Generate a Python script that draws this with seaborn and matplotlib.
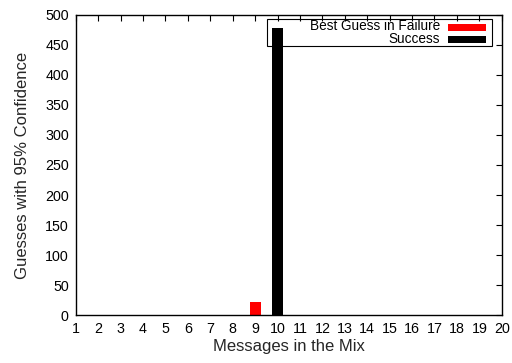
import matplotlib
matplotlib.use("Agg")
import matplotlib.pyplot as plt
import seaborn as sns
import pandas as pd
from matplotlib.patches import Rectangle

# Bar data: number of messages in the mix and guesses with 95% confidence
messages = [9, 10]
guesses = [22, 478]
outcome = ["Best Guess in Failure", "Success"]
series_order = ["Best Guess in Failure", "Success"]
series_colors = ["#ff0000", "#000000"]
x_ticks = list(range(1, 21))
y_ticks = list(range(0, 501, 50))

df = pd.DataFrame({"messages": messages, "guesses": guesses, "outcome": outcome})

sns.set_theme(style="white")
plt.rcParams["font.family"] = ["Liberation Sans", "DejaVu Sans"]

W, H = 512, 363
fig = plt.figure(figsize=(W / 100, H / 100), dpi=100)
ax = fig.add_axes([0.148, 0.132, 0.832, 0.827])

palette = dict(zip(series_order, series_colors))
sns.barplot(data=df, x="messages", y="guesses", hue="outcome",
            hue_order=series_order, palette=palette, native_scale=True,
            dodge=False, width=0.5, saturation=1, linewidth=0,
            legend=False, ax=ax)

ax.set_xlim(1, 20)
ax.set_ylim(0, 500)
ax.set_xticks(x_ticks)
ax.set_xticklabels([str(t) for t in x_ticks])
ax.set_yticks(y_ticks)
ax.tick_params(direction="in", top=True, right=True, length=4, width=0.8,
               labelsize=10.3, colors="black", pad=5)
for s in ax.spines.values():
    s.set_visible(True)
    s.set_color("black")
    s.set_linewidth(1)

ax.set_xlabel("Messages in the Mix", fontsize=12, labelpad=2)
ax.set_ylabel("Guesses with 95% Confidence", fontsize=12, labelpad=11)


def px(x, y):
    """Pixel position (from top-left) to figure fraction."""
    return x / W, (H - y) / H


# Key: label text right-aligned, colour sample to its right, in a plain box
fig.add_artist(Rectangle(px(267, 46), 225 / W, 27 / H, transform=fig.transFigure,
                         fill=False, edgecolor="black", linewidth=0.8, zorder=5))
row_base = [30.5, 43.3]
for label, color, y in zip(series_order, series_colors, row_base):
    tx, ty = px(440, y)
    fig.text(tx, ty, label, ha="right", va="baseline", fontsize=9.8, color="black")
    sx, sy = px(448, y)
    fig.add_artist(Rectangle((sx, sy), 38 / W, 7 / H, transform=fig.transFigure,
                             facecolor=color, edgecolor="none", zorder=5))

fig.savefig("out.png", dpi=100)
